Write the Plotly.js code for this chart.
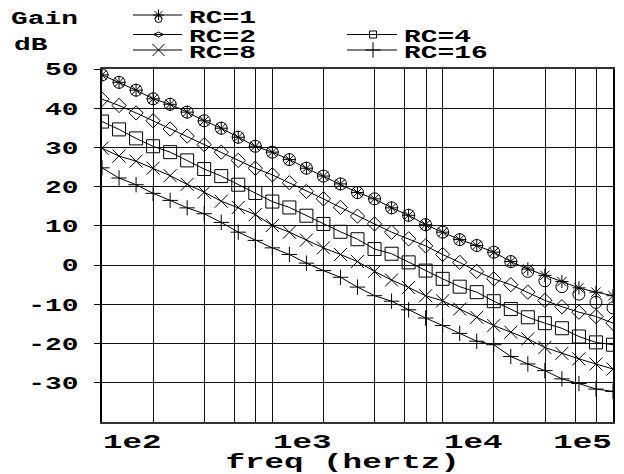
<!DOCTYPE html>
<html>
<head>
<meta charset="utf-8">
<script src="https://cdn.plot.ly/plotly-3.0.1.min.js"></script>
<style>
  html, body { margin: 0; padding: 0; background: #fff; }
  #chart { width: 624px; height: 474px; }
</style>
</head>
<body>
<div id="chart"></div>
<script>
// ---- data ----
const freq = [100, 125.9, 158.5, 199.5, 251.2, 316.2, 398.1, 501.2, 631.0, 794.3,
  1000, 1259, 1585, 1995, 2512, 3162, 3981, 5012, 6310, 7943,
  10000, 12589, 15849, 19953, 25119, 31623, 39811, 50119, 63096, 79433, 100000];

const rc1 = [48.5, 46.6, 44.6, 42.4, 41.0, 39.0, 36.8, 34.9, 32.6, 30.3,
  28.8, 26.9, 24.7, 22.7, 20.7, 18.5, 16.9, 14.6, 12.7, 10.3,
  8.4, 6.5, 5.0, 3.3, 0.9, -1.0, -2.6, -4.2, -5.8, -6.9, -7.8];
const rc1Circle = [48.5, 46.6, 44.6, 42.4, 41.0, 39.0, 36.8, 34.9, 32.6, 30.3,
  28.8, 26.9, 24.7, 22.7, 20.7, 18.5, 16.9, 14.6, 12.7, 10.3,
  8.4, 6.5, 5.0, 3.3, 0.9, -1.6, -4.0, -5.5, -7.4, -9.5, -10.9];
const rc2 = [42.3, 40.7, 38.8, 36.8, 34.7, 32.9, 30.7, 28.8, 26.7, 24.7,
  23.0, 21.0, 18.8, 16.9, 14.7, 12.5, 10.5, 8.4, 6.7, 4.9,
  2.7, 0.7, -1.6, -3.5, -5.0, -6.9, -9.0, -10.6, -12.0, -13.1, -14.8];
const rc4 = [36.6, 34.6, 32.3, 30.3, 28.8, 26.7, 24.5, 22.7, 20.5, 18.4,
  16.2, 14.7, 12.6, 10.5, 8.5, 6.6, 4.1, 2.9, 0.7, -1.4,
  -3.5, -5.5, -6.9, -9.2, -11.2, -13.3, -14.8, -16.1, -18.2, -19.7, -20.3];
const rc8 = [29.8, 27.8, 26.5, 24.7, 22.8, 20.6, 18.6, 16.3, 14.7, 12.9,
  10.1, 8.4, 6.4, 4.4, 2.7, 0.9, -1.6, -3.8, -5.7, -7.8,
  -9.1, -11.2, -13.3, -15.4, -17.1, -18.8, -21.0, -22.5, -23.9, -25.2, -26.5];
const rc16 = [24.8, 22.2, 20.5, 18.3, 16.5, 14.6, 13.1, 10.9, 8.4, 6.3,
  4.4, 2.7, 0.5, -1.4, -3.1, -5.6, -7.8, -9.2, -11.4, -13.5,
  -15.4, -17.4, -19.4, -20.3, -23.3, -25.2, -26.9, -29.0, -30.2, -31.6, -32.2];

const seriesNames = ['RC=1', 'RC=2', 'RC=4', 'RC=8', 'RC=16'];

const yTickVals = [-30, -20, -10, 0, 10, 20, 30, 40, 50];
const yTickText = ['-30', '-20', '-10', '0', '10', '20', '30', '40', '50'];
const xGridVals = [100, 200, 400, 600, 800, 1000, 2000, 4000, 6000, 8000,
  10000, 20000, 40000, 60000, 80000, 100000];
const xTickVals = [100, 1000, 10000, 100000];
const xTickText = ['1e2', '1e3', '1e4', '1e5'];
const yAxisLabel = ['Gain', 'dB'];
const xAxisLabel = 'freq (hertz)';

// ---- styling / geometry ----
const FONT = 'Liberation Mono, Courier New, monospace';
const STRETCH = 1.55;
const W = 624, H = 474, ML = 102, MR = 11, MT = 69, MB = 52;
const fx = p => p / W;           // pixel -> paper (whole figure)
const fy = p => 1 - p / H;

const LINE = { color: '#000', width: 1 };
function mk(y, name, symbol, size, extra) {
  return Object.assign({
    x: freq, y: y, name: name, type: 'scatter', mode: 'lines+markers',
    xaxis: 'x', yaxis: 'y', line: LINE, showlegend: false,
    marker: { symbol: symbol, size: size, color: '#000', line: { color: '#000', width: 1 } }
  }, extra || {});
}

const traces = [
  mk(rc1Circle, seriesNames[0], 'circle-open', 12, { mode: 'markers' }),
  mk(rc1, seriesNames[0], 'asterisk-open', 11),
  mk(rc2, seriesNames[1], 'diamond-open', 11),
  mk(rc4, seriesNames[2], 'square-open', 13),
  mk(rc8, seriesNames[3], 'x-thin-open', 13),
  mk(rc16, seriesNames[4], 'cross-thin-open', 11)
];

// ---- hand-placed legend (keys drawn on a full-figure pixel axis) ----
const keys = [
  { name: seriesNames[0], x0: 133, x1: 182, y: 15, sym: 'asterisk-open', size: 9, textY: 17.5 },
  { name: seriesNames[1], x0: 133, x1: 182, y: 34.5, sym: 'diamond-wide-open', size: 7, textY: 36.5 },
  { name: seriesNames[3], x0: 133, x1: 182, y: 50, sym: 'x-thin-open', size: 12, textY: 52.5 },
  { name: seriesNames[2], x0: 347, x1: 397, y: 34.5, sym: 'square-open', size: 7, textY: 36.5 },
  { name: seriesNames[4], x0: 347, x1: 397, y: 50, sym: 'cross-thin-open', size: 11, textY: 52.5 }
];
keys.forEach(k => {
  const xm = (k.x0 + k.x1) / 2 + 1;
  traces.push({
    x: [k.x0, xm, k.x1], y: [k.y, k.y, k.y], xaxis: 'x2', yaxis: 'y2',
    type: 'scatter', mode: 'lines+markers', showlegend: false, hoverinfo: 'skip',
    line: LINE,
    marker: { symbol: k.sym, size: k.size, color: '#000', opacity: [0, 1, 0],
              line: { color: '#000', width: 1 } }
  });
});
// small circle under the RC=1 key asterisk
traces.push({
  x: [(keys[0].x0 + keys[0].x1) / 2 + 1], y: [keys[0].y + 4], xaxis: 'x2', yaxis: 'y2',
  type: 'scatter', mode: 'markers', showlegend: false, hoverinfo: 'skip',
  marker: { symbol: 'circle-open', size: 7, color: '#000', line: { color: '#000', width: 1 } }
});

const f18 = { family: FONT, size: 18, color: '#000', weight: 'bold' };
const f21 = { family: FONT, size: 21, color: '#000', weight: 'bold' };
const annotations = [];
keys.forEach(k => annotations.push({
  x: fx(k.x1 + 6), xref: 'paper', y: fy(k.textY), yref: 'paper', text: k.name,
  showarrow: false, xanchor: 'left', yanchor: 'middle', font: f18, borderpad: 0, height: 15
}));
xTickVals.forEach((v, i) => {
  const last = i === xTickVals.length - 1;
  annotations.push({
    x: Math.log10(v), xref: 'x', y: fy(442), yref: 'paper', text: xTickText[i],
    showarrow: false, xanchor: last ? 'right' : 'left', yanchor: 'middle', font: f21,
    borderpad: 0, height: 17
  });
});
annotations.push({
  x: fx(342), xref: 'paper', y: fy(462), yref: 'paper', text: xAxisLabel,
  showarrow: false, xanchor: 'center', yanchor: 'middle', font: f21, borderpad: 0
});
annotations.push({
  x: fx(10), xref: 'paper', y: fy(19), yref: 'paper', text: yAxisLabel[0],
  showarrow: false, xanchor: 'left', yanchor: 'middle', font: f18, borderpad: 0
});
annotations.push({
  x: fx(13), xref: 'paper', y: fy(45), yref: 'paper', text: yAxisLabel[1],
  showarrow: false, xanchor: 'left', yanchor: 'middle', font: f18, borderpad: 0
});

const layout = {
  width: W, height: H,
  margin: { l: 0, r: 0, t: 0, b: 0, pad: 0 },
  paper_bgcolor: '#fff', plot_bgcolor: 'rgba(0,0,0,0)',
  font: { family: FONT, color: '#000' },
  showlegend: false,
  xaxis: {
    type: 'log', range: [2, 5], domain: [ML / W, (W - MR) / W], anchor: 'y',
    tickvals: xGridVals, showticklabels: false,
    ticks: '', showgrid: true, gridcolor: '#111', gridwidth: 1,
    showline: true, linecolor: '#333', linewidth: 2, mirror: true, zeroline: false
  },
  yaxis: {
    range: [-40, 50], domain: [MB / H, 1 - MT / H], anchor: 'x',
    tickvals: yTickVals, ticktext: yTickText,
    ticks: 'outside', ticklen: 6, tickcolor: '#000', tickwidth: 1,
    ticklabelstandoff: 12, tickfont: f18,
    showgrid: true, gridcolor: '#111', gridwidth: 1,
    showline: true, linecolor: '#000', linewidth: 2, mirror: true, zeroline: false
  },
  xaxis2: { domain: [0, 1], range: [0, W], anchor: 'y2', visible: false, fixedrange: true },
  yaxis2: { domain: [0, 1], range: [H, 0], anchor: 'x2', visible: false, fixedrange: true },
  annotations: annotations
};

function stretchText(gd) {
  const apply = (t, pivotX) => {
    const tr = t.getAttribute('transform') || '';
    const y = parseFloat(t.getAttribute('y')) || 0;
    t.setAttribute('transform', tr + ' translate(' + pivotX + ',' + y + ') scale(' + STRETCH + ',1) translate(' + (-pivotX) + ',' + (-y) + ')');
  };
  gd.querySelectorAll('.ytick text').forEach(t => {
    const b = t.getBBox();
    apply(t, b.x + b.width);
  });
  gd.querySelectorAll('g.annotation').forEach(g => {
    const idx = parseInt(g.getAttribute('data-index'), 10);
    const a = annotations[idx];
    const t = g.querySelector('text.annotation-text');
    if (!t || !a) return;
    const b = t.getBBox();
    const px = a.xanchor === 'left' ? b.x : (a.xanchor === 'right' ? b.x + b.width : b.x + b.width / 2);
    apply(t, px);
  });
}

Plotly.newPlot('chart', traces, layout, { staticPlot: true, displayModeBar: false })
  .then(gd => stretchText(gd));
</script>
</body>
</html>
